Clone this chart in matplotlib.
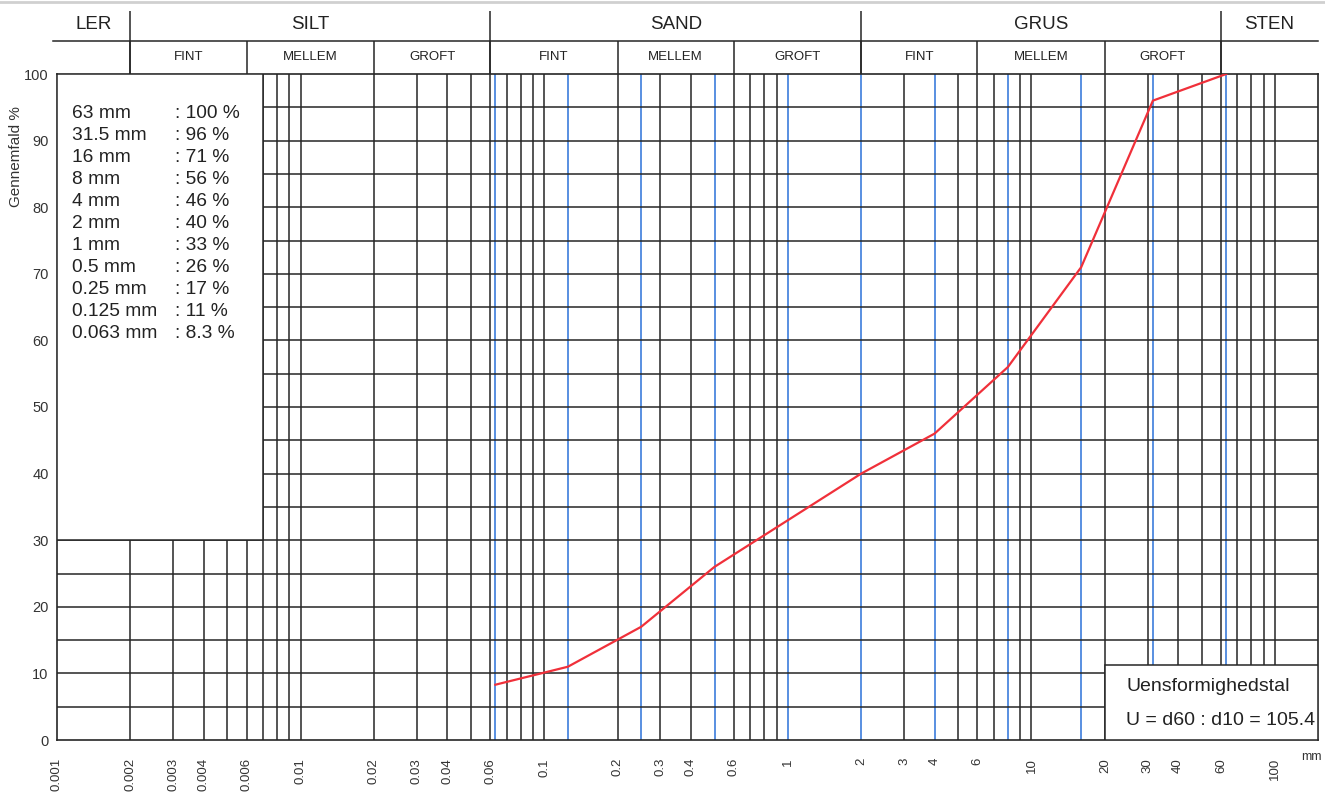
import matplotlib
matplotlib.use("Agg")
import matplotlib.pyplot as plt
from matplotlib.patches import Rectangle
from matplotlib.ticker import NullLocator

plt.rcParams['font.family'] = ['Liberation Sans', 'DejaVu Sans']

# sieve analysis result (mm, % passing)
sieve_mm = [0.063, 0.125, 0.25, 0.5, 1, 2, 4, 8, 16, 31.5, 63]
passing = [8.3, 11, 17, 26, 33, 40, 46, 56, 71, 96, 100]

# printed chart grid (mm)
grid_mm = [0.002, 0.003, 0.004, 0.005, 0.006, 0.007, 0.008, 0.009, 0.01,
           0.02, 0.03, 0.04, 0.05, 0.06, 0.07, 0.08, 0.09, 0.1,
           0.2, 0.3, 0.4, 0.6, 0.7, 0.8, 0.9,
           3, 5, 6, 7, 9, 10, 20, 30, 40, 50, 60, 70, 80, 90, 100]
xtick_mm = [0.001, 0.002, 0.003, 0.004, 0.006, 0.01, 0.02, 0.03, 0.04, 0.06,
            0.1, 0.2, 0.3, 0.4, 0.6, 1, 2, 3, 4, 6, 10, 20, 30, 40, 60, 100]

# soil classes
main_names = ["LER", "SILT", "SAND", "GRUS", "STEN"]
main_bounds = [0.001, 0.002, 0.06, 2, 60, 150]
sub_names = ["FINT", "MELLEM", "GROFT"] * 3
sub_bounds = [0.002, 0.006, 0.02, 0.06, 0.2, 0.6, 2, 6, 20, 60]

u_value = 105.4

black = "#262626"
blue = "#3c7ddb"
ink = "#222222"

fig = plt.figure(figsize=(13.25, 7.92), dpi=100)
ax = fig.add_axes([57 / 1325, 52 / 792, 1261 / 1325, 666 / 792])
ax.set_xscale("log")
ax.set_xlim(0.001, 150)
ax.set_ylim(0, 100)

# grid
for v in grid_mm:
    ax.axvline(v, color=black, lw=1.1, zorder=1)
for s in sieve_mm:
    ax.axvline(s, color=blue, lw=1.2, zorder=1)
for h in range(5, 100, 5):
    ax.axhline(h, color=black, lw=1.1, zorder=1)

# grading curve
ax.plot(sieve_mm, passing, color="#f0303a", lw=1.6, zorder=4)

# result table box
ax.add_patch(Rectangle((0.001, 30), 0.006, 70, facecolor="white",
                       edgecolor=black, lw=1.1, zorder=3))
for i, (s, p) in enumerate(zip(sieve_mm[::-1], passing[::-1])):
    y = 94.1 - 3.3 * i
    ax.text(0.00115, y, f"{s:g} mm", fontsize=13.8, va="center", ha="left",
            color=ink, zorder=5)
    ax.text(0.00305, y, f": {p:g} %", fontsize=13.8, va="center", ha="left",
            color=ink, zorder=5)

# uniformity box
ax.add_patch(Rectangle((20, 0), 130, 11.3, facecolor="white",
                       edgecolor=black, lw=1.1, zorder=3))
ax.text(24.5, 8.0, "Uensformighedstal", fontsize=14, va="center",
        color=ink, zorder=5)
ax.text(24.5, 2.9, f"U = d60 : d10 = {u_value}", fontsize=14, va="center",
        color=ink, zorder=5)

# ticks
ax.xaxis.set_minor_locator(NullLocator())
ax.set_xticks(xtick_mm)
ax.set_xticklabels([f"{v:g}" for v in xtick_mm], rotation=90, fontsize=9.5,
                   color="#333333")
ax.set_yticks(range(0, 101, 10))
ax.tick_params(axis="y", length=0, pad=6, labelsize=10.5, labelcolor="#333333")
ax.tick_params(axis="x", length=0, pad=13)
for sp in ax.spines.values():
    sp.set_color(black)
    sp.set_linewidth(1.2)

ax.text(-0.0325, 0.876, "Gennemfald %", rotation=90, fontsize=11,
        transform=ax.transAxes, ha="center", va="center", color="#333333")
ax.text(0.995, -0.026, "mm", fontsize=9, transform=ax.transAxes,
        ha="center", va="center", color="#333333")

# header
hax = fig.add_axes([57 / 1325, 718 / 792, 1261 / 1325, 66 / 792])
hax.set_xscale("log")
hax.set_xlim(0.001, 150)
hax.set_ylim(0, 2)
hax.axis("off")
hax.plot([0.00096, 150], [1, 1], color=black, lw=1.1, clip_on=False)
hax.vlines(main_bounds[1:-1], 0, 1.9, color=black, lw=1.1)
hax.vlines(sub_bounds, 0, 1, color=black, lw=1.1)
for name, a, b in zip(main_names, main_bounds[:-1], main_bounds[1:]):
    hax.text((a * b) ** 0.5, 1.5, name, fontsize=13.5, ha="center",
             va="center", color=ink)
for name, a, b in zip(sub_names, sub_bounds[:-1], sub_bounds[1:]):
    hax.text((a * b) ** 0.5, 0.5, name, fontsize=9.5, ha="center",
             va="center", color=ink)

# scan edge at top
fig.add_artist(plt.Line2D([0, 1], [0.997, 0.997], color="#d0d0d0", lw=2))

fig.savefig("out.png", dpi=100)
